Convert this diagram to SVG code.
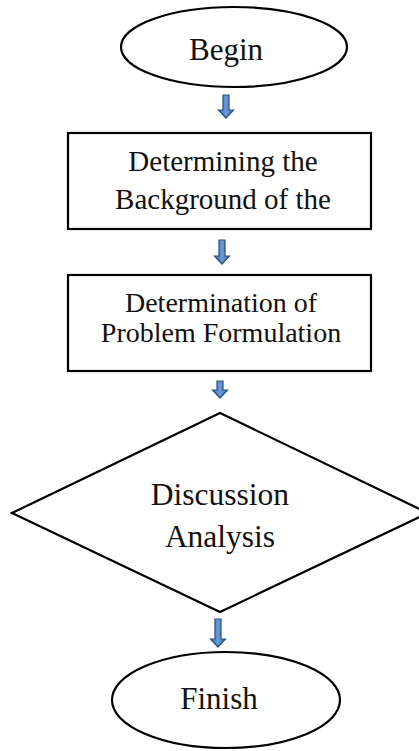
<svg xmlns="http://www.w3.org/2000/svg" width="419" height="751" viewBox="0 0 419 751">
<defs>
<linearGradient id="ag" x1="0" y1="0" x2="1" y2="0">
<stop offset="0" stop-color="#3a6fb0"/>
<stop offset="0.5" stop-color="#6a9ad6"/>
<stop offset="1" stop-color="#3a6fb0"/>
</linearGradient>
</defs>
<style>
.shape{fill:#fff;stroke:#000;stroke-width:2.2}
.t{font-family:"Liberation Serif","Times New Roman",serif;fill:#111;text-anchor:middle}
.arr{fill:url(#ag);stroke:#2b4f7e;stroke-width:1.2;stroke-linejoin:miter}
</style>
<rect width="419" height="751" fill="#fff"/>
<g id="begin">
<ellipse class="shape" cx="234" cy="47" rx="113" ry="40"/>
<text class="t" x="226" y="60" font-size="31">Begin</text>
</g>
<g id="background">
<rect class="shape" x="68" y="133" width="303" height="96"/>
<text class="t" x="223" y="171" font-size="29">Determining the</text>
<text class="t" x="223" y="209" font-size="29">Background of the</text>
</g>
<g id="problem">
<rect class="shape" x="68" y="275" width="303" height="96"/>
<text class="t" x="221" y="312" font-size="28">Determination of</text>
<text class="t" x="221" y="342" font-size="28">Problem Formulation</text>
</g>
<g id="discussion">
<polygon class="shape" points="220,413 428,513 220,612 12,513"/>
<text class="t" x="220" y="505" font-size="31.5">Discussion</text>
<text class="t" x="220" y="547" font-size="31.5">Analysis</text>
</g>
<g id="finish">
<ellipse class="shape" cx="226" cy="700" rx="114" ry="48"/>
<text class="t" x="219" y="709" font-size="31">Finish</text>
</g>
<g id="connectors">
<path class="arr" d="M223,95 h6 v15 h4.5 l-7.5,8 l-7.5,-8 h4.5 z"/>
<path class="arr" d="M219,240 h6 v16 h4.5 l-7.5,8 l-7.5,-8 h4.5 z"/>
<path class="arr" d="M217,381 h6 v9 h4.5 l-7.5,8 l-7.5,-8 h4.5 z"/>
<path class="arr" d="M215,619 h6 v20 h4.5 l-7.5,8 l-7.5,-8 h4.5 z"/>
</g>
</svg>
